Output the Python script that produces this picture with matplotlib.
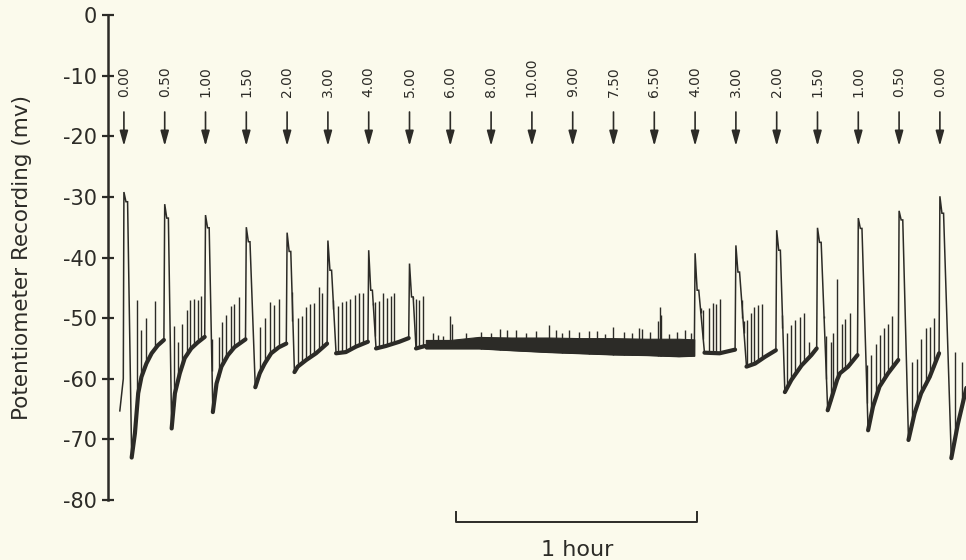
import numpy as np
import matplotlib.pyplot as plt

# time in minutes, potential in mV
arrow_t = [0, 10, 20, 30, 40, 50, 60, 70, 80, 90, 100,
           110, 120, 130, 140, 150, 160, 170, 180, 190, 200]
arrow_labels = ["0.00", "0.50", "1.00", "1.50", "2.00", "3.00", "4.00",
                "5.00", "6.00", "8.00", "10.00", "9.00", "7.50", "6.50",
                "4.00", "3.00", "2.00", "1.50", "1.00", "0.50", "0.00"]

# trace before the first step
lead_t = [-1.0, -0.15]
lead_mv = [-65.3, -60.0]

# big swings: step up, shoulder, fall to trough
peak_t = [0, 10, 20, 30, 40, 50, 60, 70, 140, 150, 160, 170, 180, 190, 200]
peak_mv = [-29.2, -31.2, -33.0, -35.0, -35.9, -37.2, -38.8, -41.0,
           -39.3, -38.0, -35.5, -35.1, -33.5, -32.3, -29.9]
shoulder_mv = [-30.8, -33.5, -35.1, -37.4, -39.0, -42.1, -45.4, -46.5,
               -45.4, -42.4, -38.8, -37.5, -35.2, -33.8, -32.7]
trough_t = [1.9, 11.7, 21.8, 32.2, 41.8, 52.0, 61.8, 71.6,
            142.3, 152.6, 162.0, 172.5, 182.4, 192.3, 202.8]
trough_mv = [-73.0, -68.2, -65.5, -61.4, -58.9, -55.8, -55.0, -55.0,
             -55.7, -58.0, -62.2, -65.2, -68.5, -70.1, -73.1]

# recovery after each trough
recovery_t = [
    [2.7, 3.5, 4.3, 5.5, 6.8, 8.3, 9.8],
    [12.5, 13.7, 14.9, 16.5, 18.1, 19.8],
    [22.7, 23.9, 25.5, 27.1, 29.8],
    [33.3, 34.5, 36.1, 38.0, 39.8],
    [42.6, 44.7, 47.1, 49.8],
    [54.4, 56.9, 59.8],
    [64.2, 67.5, 69.8],
    [73.8],
    [146.0, 149.8],
    [154.7, 157.1, 159.8],
    [163.6, 166.1, 168.5, 169.8],
    [173.8, 174.8, 175.5, 177.5, 179.8],
    [183.6, 185.2, 187.3, 189.8],
    [193.8, 195.4, 197.5, 199.8],
    [204.4, 206.5],
]
recovery_mv = [
    [-69.0, -62.4, -59.7, -57.5, -55.8, -54.5, -53.6],
    [-62.4, -59.1, -56.6, -55.0, -54.0, -53.1],
    [-60.8, -58.0, -56.1, -54.8, -53.5],
    [-59.1, -57.5, -55.8, -54.8, -54.2],
    [-58.0, -56.9, -55.8, -54.2],
    [-55.6, -54.7, -53.9],
    [-54.6, -53.9, -53.3],
    [-54.6],
    [-55.8, -55.2],
    [-57.5, -56.4, -55.3],
    [-60.2, -57.8, -56.1, -55.0],
    [-62.4, -60.2, -59.1, -58.0, -56.1],
    [-64.6, -61.3, -59.1, -56.9],
    [-65.7, -62.4, -59.7, -55.8],
    [-67.5, -61.5],
]

# quiet stretch between the swings (noisy band)
mid_t = [74.0, 80.0, 87.0, 95.0, 104.0, 112.0, 120.0, 128.0, 136.0, 139.8]
mid_top = [-53.6, -53.6, -53.1, -53.2, -53.2, -53.3, -53.3, -53.4, -53.4, -53.5]
mid_bottom = [-55.0, -55.0, -55.0, -55.3, -55.6, -55.8, -56.0, -56.1, -56.3, -56.2]

# thin spikes: time and top
spike_t = [3.3, 4.3, 5.4, 7.6,
           12.2, 13.3, 14.3, 15.5, 16.3, 17.2, 18.2, 19.0,
           21.6, 23.2, 24.1, 25.1, 26.2, 27.1, 28.1,
           33.3, 34.5, 35.9, 36.9, 38.0,
           41.2, 42.6, 43.6, 44.7, 45.6, 46.7, 47.7, 48.6,
           51.3, 52.4, 53.5, 54.4, 55.5, 56.6, 57.5, 58.6,
           61.1, 61.6, 62.6, 63.4, 64.4, 65.4, 66.3,
           70.9, 71.6, 72.4, 73.3,
           75.8, 77.0, 78.1, 80.0, 80.4, 83.8, 87.5, 90.0, 92.2, 94.0,
           96.0, 98.5, 101.0, 104.2, 105.8, 107.5, 109.0, 111.5, 114.0,
           116.0, 118.0, 120.0, 122.5, 124.5, 126.2, 127.0, 129.0, 130.9,
           131.3, 131.7, 133.5, 135.5, 137.5, 139.0,
           141.4, 142.0, 143.5, 144.3, 145.2, 146.2,
           151.4, 152.0, 152.6, 153.6, 154.5, 155.5, 156.5,
           161.4, 162.5, 163.6, 164.6, 165.7, 166.7, 167.9,
           171.6, 172.2, 173.2, 173.8, 174.8, 175.9, 176.8, 177.9,
           182.2, 183.2, 184.4, 185.4, 186.3, 187.3, 188.3,
           193.2, 194.4, 195.4, 196.5, 197.5, 198.5,
           203.8, 205.4]
spike_mv = [-47.0, -52.0, -50.0, -47.2,
            -51.3, -53.9, -50.9, -48.7, -47.0, -46.9, -47.0, -46.4,
            -53.5, -53.1, -50.7, -49.5, -48.0, -47.7, -46.5,
            -51.4, -50.0, -47.3, -47.8, -46.8,
            -50.5, -50.0, -49.7, -48.1, -47.7, -47.5, -44.8, -45.9,
            -48.5, -48.0, -47.3, -47.1, -46.8, -46.2, -45.9, -45.8,
            -47.8, -47.3, -47.1, -45.8, -46.6, -46.3, -45.8,
            -46.8, -46.9, -47.0, -46.3,
            -52.5, -52.8, -53.0, -49.6, -51.0, -52.5, -52.3, -52.4, -51.8, -52.0,
            -52.0, -52.5, -52.2, -51.2, -52.0, -52.4, -52.0, -52.3, -52.2,
            -52.1, -52.6, -51.5, -52.3, -52.4, -51.6, -51.8, -52.3, -50.5,
            -48.1, -49.5, -52.6, -52.3, -52.0, -52.4,
            -48.3, -48.6, -48.3, -47.5, -47.6, -46.9,
            -50.0, -50.5, -50.3, -49.1, -48.1, -47.9, -47.7,
            -51.7, -52.5, -51.2, -50.3, -49.8, -49.1, -54.0,
            -50.0, -53.0, -53.9, -52.4, -43.6, -51.0, -50.2, -49.2,
            -57.8, -56.1, -54.2, -52.8, -51.7, -50.9, -49.7,
            -57.2, -56.7, -53.4, -51.7, -51.4, -49.9,
            -55.6, -57.2]

scale_bar_t = [81.5, 140.5]

ink = "#2c2b27"
paper = "#fbfaec"

plt.rcParams["font.family"] = ["DejaVu Sans"]

fig = plt.figure(figsize=(9.66, 5.6), dpi=100, facecolor=paper)
ax = fig.add_axes([108 / 966, 60 / 560, 858 / 966, 485 / 560])
ax.set_facecolor(paper)

# assemble the full trace
tt = list(lead_t)
vv = list(lead_mv)
for i, t0 in enumerate(peak_t):
    if t0 == 140:
        tt += mid_t
        vv += mid_bottom
    tt += [t0, t0 + 0.5, t0 + 0.9, trough_t[i]] + recovery_t[i]
    vv += [peak_mv[i], shoulder_mv[i], shoulder_mv[i], trough_mv[i]] + recovery_mv[i]
tt = np.array(tt)
vv = np.array(vv)

ax.plot(tt, vv, color=ink, lw=1.1, solid_joinstyle="miter")

# dark noisy band along each recovery
for i in range(len(peak_t)):
    ax.plot([trough_t[i]] + recovery_t[i], [trough_mv[i]] + recovery_mv[i],
            color=ink, lw=3.0, solid_capstyle="round")
ax.fill_between(mid_t, mid_bottom, mid_top, color=ink, lw=0.8)

base = np.interp(spike_t, tt, vv)
ax.vlines(spike_t, base, spike_mv, color=ink, lw=1.0)

# stimulus arrows and labels
for t, lab in zip(arrow_t, arrow_labels):
    ax.annotate("", xy=(t, -21.6), xytext=(t, -16.0),
                arrowprops=dict(arrowstyle="-|>,head_length=0.9,head_width=0.25",
                                color=ink, lw=1.2, shrinkA=0, shrinkB=0))
    ax.text(t, -13.6, lab, rotation=90, ha="center", va="bottom",
            fontsize=10, color=ink)

# 1 hour scale bar
ax.plot([scale_bar_t[0], scale_bar_t[0], scale_bar_t[1], scale_bar_t[1]],
        [-82.0, -83.7, -83.7, -82.0], color=ink, lw=1.4, clip_on=False)
ax.text(sum(scale_bar_t) / 2, -88.3, "1 hour", ha="center", va="center",
        fontsize=16, color=ink)

ax.set_xlim(-3.9, 206.4)
ax.set_ylim(-80, 0)
for side in ["top", "right", "bottom"]:
    ax.spines[side].set_visible(False)
ax.spines["left"].set_linewidth(1.8)
ax.spines["left"].set_color(ink)
ax.set_xticks([])
ax.set_yticks(range(-80, 1, 10))
ax.set_yticklabels([str(v) for v in range(-80, 1, 10)])
ax.tick_params(axis="y", direction="inout", length=8, width=1.6,
               labelsize=15, pad=4, colors=ink)
ax.set_ylabel("Potentiometer Recording (mv)", fontsize=15.5, color=ink,
              labelpad=22)

fig.savefig("out.png", dpi=100, facecolor=paper)
